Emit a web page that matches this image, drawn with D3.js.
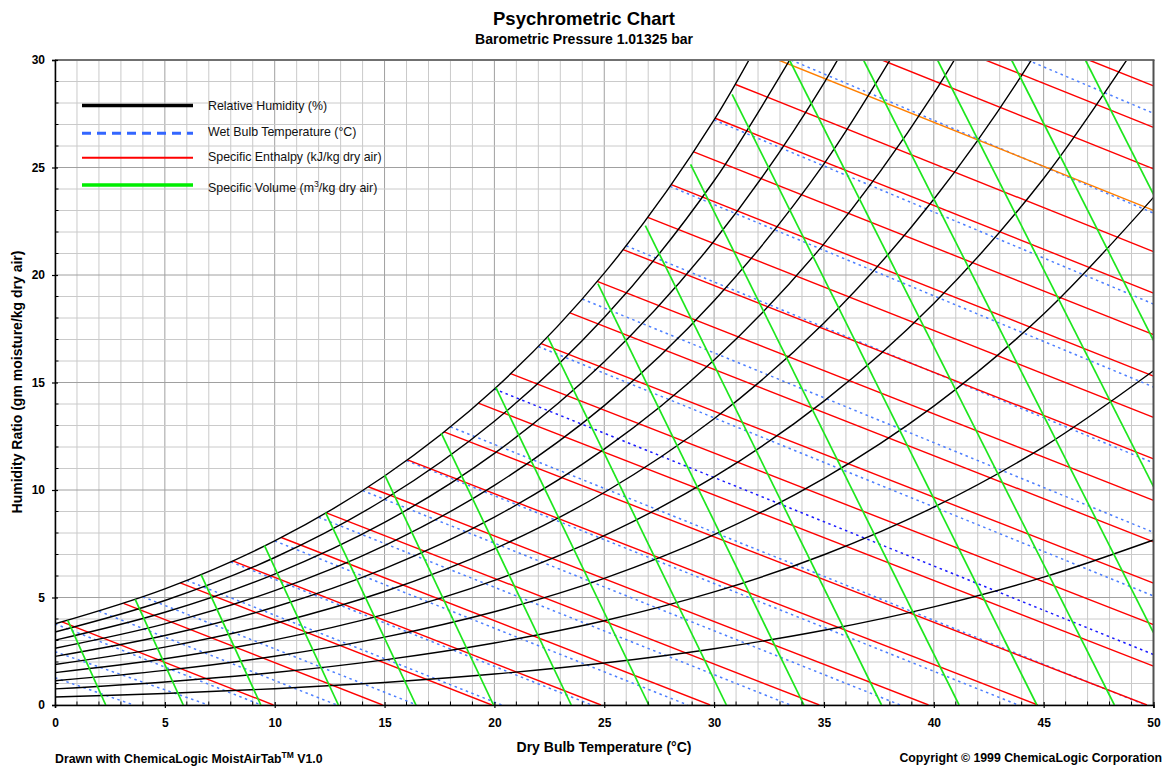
<!DOCTYPE html>
<html>
<head>
<meta charset="utf-8">
<script src="https://cdn.jsdelivr.net/npm/d3@7"></script>
<style>
  body { margin: 0; background: #fff; }
  svg { display: block; font-family: "Liberation Sans", Arial, sans-serif; }
</style>
</head>
<body>
<svg id="chart" width="1175" height="768"></svg>
<script>
// ---------------- DATA ----------------
const xTicks = [0, 5, 10, 15, 20, 25, 30, 35, 40, 45, 50];
const yTicks = [0, 5, 10, 15, 20, 25, 30];

// Relative humidity curves: humidity ratio (g/kg) at the dry bulb temperatures below
const rhTemps = [0, 5, 10, 15, 20, 25, 30, 35, 40, 45, 50];
const rhLevels = [10, 20, 30, 40, 50, 60, 70, 80, 90, 100];
const rh10  = [0.375, 0.536, 0.755, 1.049, 1.439, 1.952, 2.618, 3.475, 4.567, 5.947, 7.676];
const rh20  = [0.751, 1.073, 1.512, 2.101, 2.885, 3.916, 5.258, 6.989, 9.201, 12.008, 15.544];
const rh30  = [1.128, 1.611, 2.270, 3.157, 4.338, 5.893, 7.921, 10.542, 13.904, 18.187, 23.611];
const rh40  = [1.504, 2.150, 3.031, 4.217, 5.797, 7.882, 10.606, 14.136, 18.678, 24.488, 31.885];
const rh50  = [1.882, 2.690, 3.793, 5.280, 7.264, 9.884, 13.315, 17.771, 23.524, 30.914, 40.37];
const rh60  = [2.259, 3.231, 4.557, 6.347, 8.737, 11.898, 16.046, 21.448, 28.444, 37.469, null];
const rh70  = [2.638, 3.772, 5.323, 7.417, 10.217, 13.925, 18.801, 25.167, 33.440, null, null];
const rh80  = [3.016, 4.315, 6.091, 8.491, 11.704, 15.966, 21.580, 28.929, 38.512, null, null];
const rh90  = [3.395, 4.859, 6.860, 9.569, 13.198, 18.019, 24.384, 32.736, null, null, null];
const rh100 = [3.775, 5.403, 7.632, 10.650, 14.699, 20.086, 27.212, 36.587, null, null, null];
const rhCurves = [rh10, rh20, rh30, rh40, rh50, rh60, rh70, rh80, rh90, rh100];

// Wet bulb lines (°C): start / end points [dry bulb °C, humidity ratio g/kg]
const wetBulbLevels = [-4, -2, 0, 2, 4, 6, 8, 10, 12, 14, 16, 18, 20, 22, 24, 26, 28, 30, 32, 34];
const wetBulbStart = [[0,1.27],[0,2.48],[0,3.775],[2,4.364],[4,5.034],[6,5.796],[8,6.657],[10,7.632],
  [12,8.732],[14,9.973],[16,11.368],[18,12.938],[20,14.699],[22,16.673],[24,18.884],[26,21.358],
  [28,24.122],[30,27.212],[33.5,30],[44.26,30]];
const wetBulbEnd = [[3.58,0],[6.99,0],[9.39,0],[12.83,0],[16.47,0],[20.33,0],[24.43,0],[28.8,0],
  [33.47,0],[38.47,0],[43.84,0],[49.63,0],[50,2.35],[50,5.07],[50,8.03],[50,11.26],
  [50,14.79],[50,18.65],[50,22.88],[50,27.52]];

// Specific enthalpy lines (kJ/kg dry air)
const enthalpyLevels = [10,15,20,25,30,35,40,45,50,55,60,65,70,75,80,85,90,95,100,105,110,115,120,125];
const enthalpyStart = [[0.32,3.87],[3.12,4.73],[5.70,5.68],[8.09,6.70],[10.30,7.79],[12.35,8.94],
  [14.26,10.15],[16.05,11.40],[17.71,12.70],[19.27,14.04],[20.74,15.41],[22.13,16.81],[23.44,18.24],
  [24.68,19.70],[25.86,21.18],[26.98,22.68],[28.05,24.20],[29.07,25.73],[30.05,27.29],[30.98,28.86],
  [32.93,30],[37.64,30],[42.35,30],[47.06,30]];
const enthalpyEnd = [[9.94,0],[14.91,0],[19.88,0],[24.85,0],[29.82,0],[34.79,0],[39.76,0],[44.73,0],
  [49.70,0],[50,1.81],[50,3.74],[50,5.67],[50,7.59],[50,9.52],[50,11.45],[50,13.38],[50,15.30],
  [50,17.23],[50,19.16],[50,21.09],[50,23.01],[50,24.94],[50,26.87],[50,28.80]];

// Specific volume lines (m3/kg dry air)
const volumeLevels = [0.78,0.79,0.80,0.81,0.82,0.83,0.84,0.85,0.86,0.87,0.88,0.89,0.90,0.91,0.92,0.93,0.94,0.95];
const volumeStart = [[0.58,3.94],[3.65,4.91],[6.65,6.06],[9.53,7.42],[12.31,8.96],[15.01,10.69],
  [17.58,12.64],[20.07,14.76],[22.44,17.10],[24.71,19.60],[26.87,22.30],[28.93,25.15],[30.82,28.4],
  [33.43,30],[36.80,30],[40.17,30],[43.54,30],[46.90,30]];
const volumeEnd = [[2.31,0],[5.84,0],[9.37,0],[12.90,0],[16.43,0],[19.96,0],[23.50,0],[27.03,0],
  [30.56,0],[34.09,0],[37.62,0],[41.15,0],[44.69,0],[48.22,0],[50,3.37],[50,10.16],[50,16.96],[50,23.75]];

const legendItems = ["Relative Humidity (%)", "Wet Bulb Temperature (°C)", "Specific Enthalpy (kJ/kg dry air)", "Specific Volume"];

// ---------------- DRAW ----------------
const svg = d3.select("#chart");
const L = 55, R = 1153.5, T = 60, B = 705;
const x = d3.scaleLinear().domain([0, 50]).range([L, R]);
const y = d3.scaleLinear().domain([0, 30]).range([B, T]);

svg.append("defs").append("clipPath").attr("id", "plotClip")
  .append("rect").attr("x", L).attr("y", T).attr("width", R - L).attr("height", B - T);

// grid
const grid = svg.append("g");
d3.range(0, 51).forEach(v => {
  grid.append("line").attr("x1", x(v)).attr("x2", x(v)).attr("y1", T).attr("y2", B)
    .attr("stroke", v % 5 === 0 ? "#a0a0a0" : "#cacaca").attr("stroke-width", 1);
});
d3.range(0, 31).forEach(v => {
  grid.append("line").attr("x1", L).attr("x2", R).attr("y1", y(v)).attr("y2", y(v))
    .attr("stroke", v % 5 === 0 ? "#a0a0a0" : "#cacaca").attr("stroke-width", 1);
});

const plot = svg.append("g").attr("clip-path", "url(#plotClip)");
const seg = (s, e) => d3.line().x(d => x(d[0])).y(d => y(d[1]))([s, e]);

// wet bulb lines
wetBulbLevels.forEach((lv, i) => {
  plot.append("path").attr("d", seg(wetBulbStart[i], wetBulbEnd[i]))
    .attr("fill", "none")
    .attr("stroke", lv === 20 ? "#1a1aff" : "#4d7fff")
    .attr("stroke-width", 1.5)
    .attr("stroke-dasharray", "2.5,3.5");
});

// enthalpy lines
enthalpyLevels.forEach((lv, i) => {
  plot.append("path").attr("d", seg(enthalpyStart[i], enthalpyEnd[i]))
    .attr("fill", "none")
    .attr("stroke", lv === 110 ? "#ff7f00" : "#ff0000")
    .attr("stroke-width", 1.4);
});

// RH curves
const rhLine = d3.line()
  .defined(d => d[1] != null)
  .x(d => x(d[0])).y(d => y(d[1]))
  .curve(d3.curveCatmullRom.alpha(0.5));
rhCurves.forEach(vals => {
  const pts = rhTemps.map((t, j) => [t, vals[j]]);
  plot.append("path").attr("d", rhLine(pts))
    .attr("fill", "none").attr("stroke", "#000").attr("stroke-width", 1.4);
});

// volume lines
volumeLevels.forEach((lv, i) => {
  plot.append("path").attr("d", seg(volumeStart[i], volumeEnd[i]))
    .attr("fill", "none").attr("stroke", "#1ee61e").attr("stroke-width", 1.7);
});

// border: top/right
svg.append("line").attr("x1", L).attr("x2", R + 1).attr("y1", T).attr("y2", T)
  .attr("stroke", "#707070").attr("stroke-width", 2);
svg.append("line").attr("x1", R).attr("x2", R).attr("y1", T).attr("y2", B)
  .attr("stroke", "#505050").attr("stroke-width", 2);

// axes
const FONT = "'Liberation Sans', Arial, sans-serif";
const yAxis = d3.axisLeft(y).tickValues(yTicks).tickSize(3).tickFormat(d3.format("d"));
const gy = svg.append("g").attr("transform", `translate(${L},0)`).call(yAxis);
const xAxis = d3.axisBottom(x).tickValues(xTicks).tickSize(3).tickFormat(d3.format("d"));
const gx = svg.append("g").attr("transform", `translate(0,${B})`).call(xAxis);
[gx, gy].forEach(g => {
  g.select(".domain").attr("stroke", "#000").attr("stroke-width", 1.5);
  g.selectAll(".tick line").attr("stroke", "#000").attr("stroke-width", 1.2);
  g.selectAll("text").attr("font-size", 12).attr("font-weight", "bold")
    .attr("fill", "#000").attr("font-family", FONT);
});
gx.selectAll(".tick line").attr("y1", -3).attr("y2", 3);
gx.selectAll("text").attr("dy", "1.1em").attr("y", 9);
gy.selectAll(".tick line").attr("x1", 3).attr("x2", -3);
gy.selectAll("text").attr("x", -10);
// minor ticks (inside)
d3.range(0, 51).filter(v => v % 5 !== 0).forEach(v => {
  svg.append("line").attr("x1", x(v)).attr("x2", x(v)).attr("y1", B).attr("y2", B - 3.5)
    .attr("stroke", "#000").attr("stroke-width", 1);
});
d3.range(0, 31).filter(v => v % 5 !== 0).forEach(v => {
  svg.append("line").attr("x1", L).attr("x2", L + 3.5).attr("y1", y(v)).attr("y2", y(v))
    .attr("stroke", "#000").attr("stroke-width", 1);
});

// titles
svg.append("text").attr("x", 584).attr("y", 25).attr("text-anchor", "middle")
  .attr("font-size", 18.5).attr("font-weight", "bold").text("Psychrometric Chart");
svg.append("text").attr("x", 584).attr("y", 44).attr("text-anchor", "middle")
  .attr("font-size", 14).attr("font-weight", "bold").text("Barometric Pressure 1.01325 bar");
svg.append("text").attr("x", 604).attr("y", 752).attr("text-anchor", "middle")
  .attr("font-size", 14).attr("font-weight", "bold").text("Dry Bulb Temperature (°C)");
svg.append("text").attr("transform", "translate(22,382) rotate(-90)").attr("text-anchor", "middle")
  .attr("font-size", 14).attr("font-weight", "bold").text("Humidity Ratio (gm moisture/kg dry air)");

// footers
const f1 = svg.append("text").attr("x", 55).attr("y", 763).attr("font-size", 12.3).attr("font-weight", "bold");
f1.append("tspan").text("Drawn with ChemicaLogic MoistAirTab");
f1.append("tspan").attr("font-size", 8.5).attr("dy", -5).text("TM");
f1.append("tspan").attr("dy", 5).text(" V1.0");
svg.append("text").attr("x", 1162).attr("y", 762).attr("text-anchor", "end")
  .attr("font-size", 12.3).attr("font-weight", "bold").text("Copyright © 1999 ChemicaLogic Corporation");

// legend
const lg = svg.append("g");
const lx1 = 82, lx2 = 193, ltx = 208;
const rows = [
  {y: 105.5, stroke: "#000", w: 3.5, dash: null},
  {y: 133.3, stroke: "#3366ff", w: 3, dash: "9,6"},
  {y: 157.7, stroke: "#ff0000", w: 2, dash: null},
  {y: 185, stroke: "#00ee00", w: 3.5, dash: null}
];
rows.forEach((r, i) => {
  lg.append("line").attr("x1", lx1).attr("x2", lx2).attr("y1", r.y).attr("y2", r.y)
    .attr("stroke", r.stroke).attr("stroke-width", r.w)
    .attr("stroke-dasharray", r.dash);
});
const ltxtY = [110, 136, 161, 192];
legendItems.forEach((t, i) => {
  const tx = lg.append("text").attr("x", ltx).attr("y", ltxtY[i]).attr("font-size", 12.4).attr("fill", "#111");
  if (i < 3) tx.text(t);
  else {
    tx.append("tspan").text("Specific Volume (m");
    tx.append("tspan").attr("font-size", 8.5).attr("dy", -5).text("3");
    tx.append("tspan").attr("dy", 5).text("/kg dry air)");
  }
});
</script>
</body>
</html>
